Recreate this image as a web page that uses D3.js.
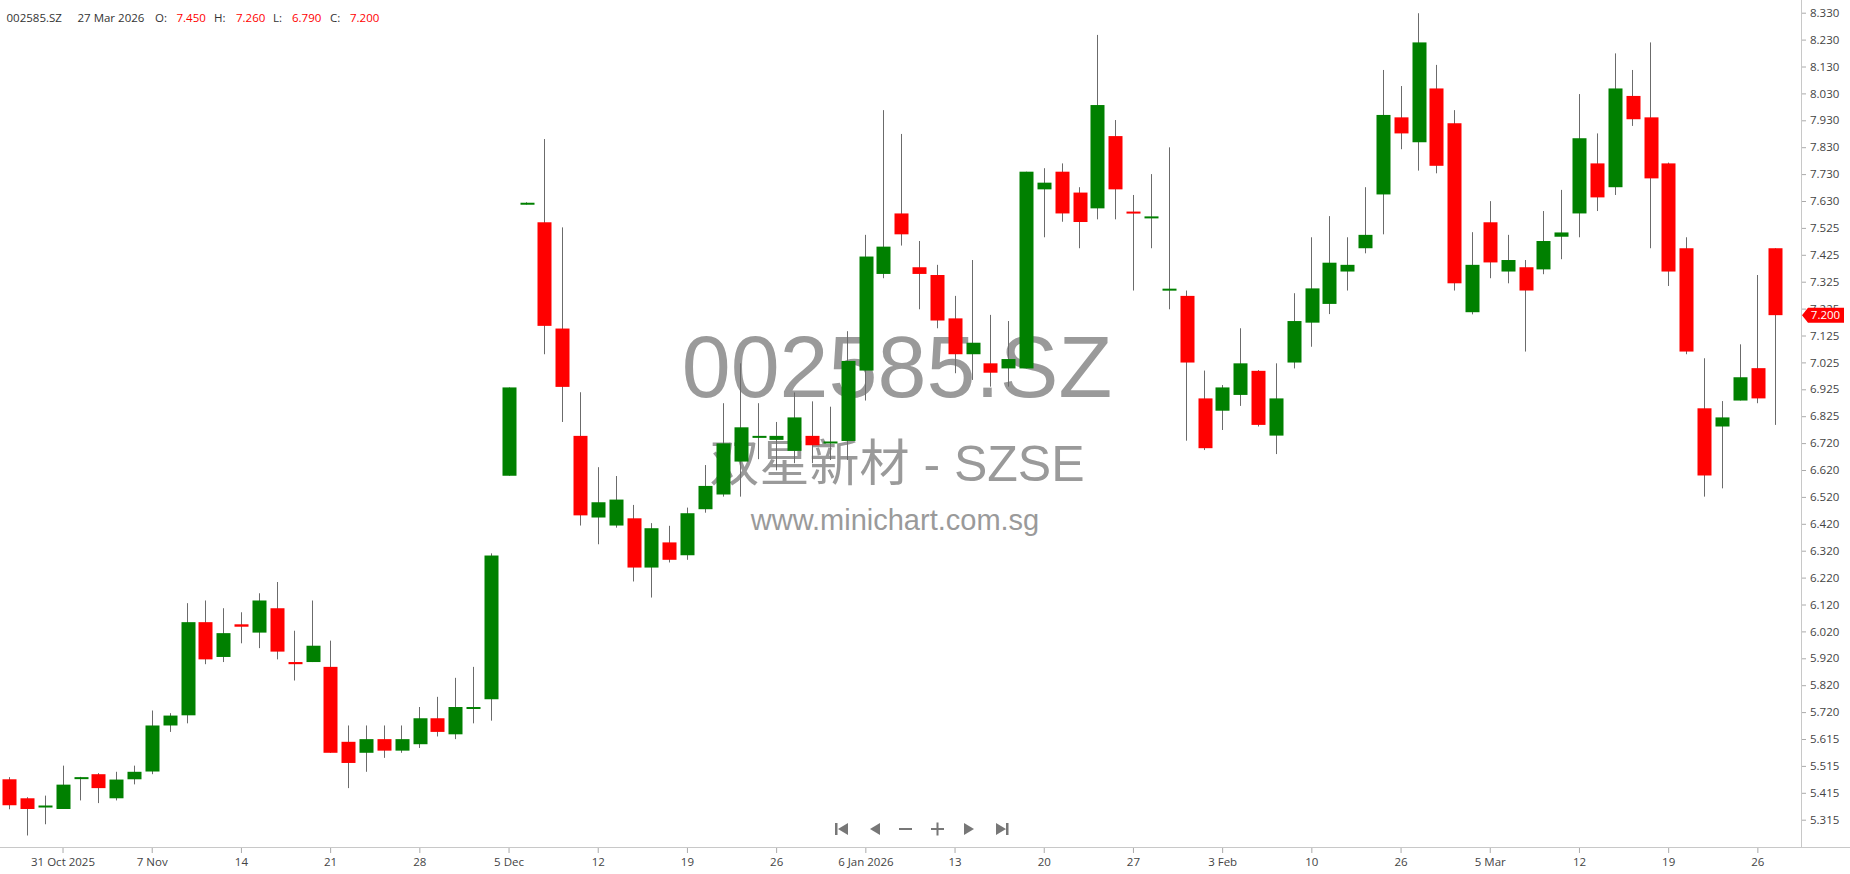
<!DOCTYPE html>
<html>
<head>
<meta charset="utf-8">
<script src="https://cdn.jsdelivr.net/npm/d3@7"></script>
<style>
  body { margin: 0; background: #fff; }
  svg { display: block; }
  .axis text { font-family: "Segoe UI", "Open Sans", sans-serif; font-size: 11.5px; fill: #444; }
  .axis .domain { display: none; }
  .axis line { stroke: #aaa; }
</style>
</head>
<body>
<div id="chart"></div>
<script>
// 002585.SZ daily candles, 28 Oct 2025 .. 27 Mar 2026
var opens = [5.466,5.395,5.365,5.355,5.472,5.485,5.395,5.466,5.495,5.667,
  5.705,6.053,5.923,6.045,6.014,6.105,5.904,5.904,5.886,5.606,
  5.565,5.616,5.573,5.597,5.694,5.634,5.734,5.765,6.600,7.615,
  7.547,7.150,6.749,6.444,6.414,6.441,6.257,6.351,6.303,6.475,
  6.530,6.653,6.748,6.734,6.693,6.749,6.727,6.730,6.993,7.354,
  7.580,7.379,7.350,7.188,7.054,7.020,7.001,7.001,7.670,7.736,
  7.658,7.599,7.869,7.587,7.565,7.294,7.272,6.889,6.843,6.902,
  6.992,6.750,7.023,7.172,7.242,7.363,7.450,7.651,7.939,7.846,
  8.047,7.917,7.211,7.547,7.363,7.379,7.371,7.493,7.580,7.767,
  7.678,8.019,7.939,7.767,7.450,6.852,6.784,6.881,7.002,7.450];
var highs = [5.474,5.399,5.405,5.517,5.475,5.489,5.494,5.517,5.723,5.713,
  6.124,6.134,6.105,6.090,6.161,6.203,6.021,6.134,5.984,5.667,
  5.667,5.667,5.667,5.736,5.774,5.845,5.886,6.310,6.930,7.622,
  7.858,7.528,6.912,6.632,6.599,6.491,6.423,6.413,6.481,6.640,
  6.871,7.020,6.871,6.801,6.911,6.878,6.858,7.140,7.500,7.966,
  7.877,7.477,7.388,7.272,7.406,7.201,7.178,7.736,7.749,7.767,
  7.678,8.247,7.929,7.649,7.727,7.827,7.292,6.993,6.939,7.151,
  6.995,7.020,7.282,7.491,7.570,7.491,7.678,8.116,8.056,8.328,
  8.135,7.966,7.510,7.626,7.500,7.406,7.589,7.668,8.026,7.879,
  8.178,8.116,8.219,7.770,7.491,7.039,6.879,7.091,7.350,7.450];
var lows = [5.354,5.256,5.298,5.355,5.387,5.377,5.387,5.447,5.485,5.643,
  5.675,5.896,5.904,5.974,5.956,5.914,5.835,5.904,5.565,5.433,
  5.494,5.546,5.565,5.583,5.626,5.616,5.675,5.685,6.600,7.613,
  7.054,6.801,6.414,6.344,6.406,6.205,6.145,6.276,6.286,6.462,
  6.522,6.522,6.662,6.620,6.647,6.647,6.659,6.659,6.881,7.338,
  7.460,7.222,7.151,6.983,6.958,6.933,6.933,7.001,7.491,7.549,
  7.450,7.558,7.558,7.292,7.450,7.222,6.731,6.696,6.771,6.861,
  6.784,6.681,7.001,7.082,7.204,7.292,7.431,7.502,7.820,7.740,
  7.730,7.292,7.203,7.338,7.319,7.064,7.353,7.409,7.491,7.589,
  7.649,7.907,7.450,7.309,7.054,6.522,6.553,6.881,6.871,6.790];
var closes = [5.369,5.355,5.368,5.446,5.474,5.433,5.465,5.494,5.667,5.704,
  6.053,5.914,6.012,6.036,6.134,5.943,5.896,5.965,5.565,5.527,
  5.616,5.573,5.616,5.694,5.643,5.736,5.736,6.302,6.930,7.620,
  7.160,6.932,6.452,6.501,6.511,6.257,6.404,6.286,6.460,6.562,
  6.721,6.781,6.749,6.749,6.818,6.714,6.728,7.029,7.419,7.456,
  7.502,7.354,7.180,7.054,7.097,6.985,7.036,7.736,7.695,7.580,
  7.548,7.985,7.670,7.580,7.569,7.299,7.023,6.703,6.930,7.020,
  6.790,6.889,7.178,7.300,7.396,7.388,7.500,7.948,7.879,8.219,
  7.758,7.319,7.388,7.397,7.406,7.292,7.477,7.509,7.861,7.640,
  8.047,7.932,7.711,7.363,7.064,6.601,6.818,6.968,6.889,7.200];

var xTickLabels = ["31 Oct 2025","7 Nov","14","21","28","5 Dec","12","19","26","6 Jan 2026",
  "13","20","27","3 Feb","10","26","5 Mar","12","19","26"];
var xTickFirst = 3, xTickEvery = 5;

var yTickLabels = ["5.315","5.415","5.515","5.615","5.720","5.820","5.920","6.020","6.120","6.220",
  "6.320","6.420","6.520","6.620","6.720","6.825","6.925","7.025","7.125","7.225",
  "7.325","7.425","7.525","7.630","7.730","7.830","7.930","8.030","8.130","8.230","8.330"];
var yMin = 5.315, yMax = 8.330;

var header = {symbol: "002585.SZ", date: "27 Mar 2026", o: "7.450", h: "7.260", l: "6.790", c: "7.200"};
var lastPrice = 7.200;

var W = 1850, H = 874;
var axisX = 1801, axisY = 847;
var UP = "#008000", DOWN = "#ff0000";

var candles = opens.map(function(o, i) {
  return {i: i, o: o, h: highs[i], l: lows[i], c: closes[i]};
});

var svg = d3.select("#chart").append("svg")
  .attr("width", W).attr("height", H);

var x = d3.scaleLinear().domain([0, candles.length - 1]).range([9, 1775.2]);
var step = x(1) - x(0);
var bodyW = step * 0.76;
var y = d3.scaleLinear().domain([yMin, yMax]).range([819.7, 12.7]);

// watermark
var wm = svg.append("g").attr("fill", "#9a9a9a").attr("text-anchor", "middle")
  .style("font-family", "'Liberation Sans', Arial, sans-serif");
wm.append("text").attr("x", 897).attr("y", 397).style("font-size", "88px").text("002585.SZ");
wm.append("text").attr("x", 897).attr("y", 481)
  .style("font-size", "50px")
  .style("font-family", "'Liberation Sans', Arial, 'Noto Sans CJK SC', sans-serif")
  .text("双星新材 - SZSE");
wm.append("text").attr("x", 895).attr("y", 530).style("font-size", "29px").text("www.minichart.com.sg");

// wicks
svg.append("g").selectAll("line.wick")
  .data(candles).enter().append("line")
    .attr("x1", function(d) { return Math.round(x(d.i)) + 0.5; })
    .attr("x2", function(d) { return Math.round(x(d.i)) + 0.5; })
    .attr("y1", function(d) { return y(d.h); })
    .attr("y2", function(d) { return y(d.l); })
    .attr("stroke", "#6b6b6b")
    .attr("stroke-width", 1);

// bodies
svg.append("g").selectAll("rect.body")
  .data(candles).enter().append("rect")
    .attr("x", function(d) { return Math.round(x(d.i) - bodyW / 2) + 0.5; })
    .attr("width", Math.round(bodyW))
    .attr("y", function(d) { return y(Math.max(d.o, d.c)); })
    .attr("height", function(d) { return Math.max(2, Math.abs(y(d.o) - y(d.c))); })
    .attr("fill", function(d) { return d.c >= d.o ? UP : DOWN; });

// x axis
svg.append("line").attr("x1", 0).attr("x2", W).attr("y1", axisY + 0.5).attr("y2", axisY + 0.5)
  .attr("stroke", "#c8c8c8");
var xTickIdx = xTickLabels.map(function(d, k) { return xTickFirst + k * xTickEvery; });
var xAxis = svg.append("g").attr("class", "axis")
  .attr("transform", "translate(0," + (axisY + 1) + ")")
  .call(d3.axisBottom(x).tickValues(xTickIdx).tickSize(5).tickPadding(5)
    .tickFormat(function(d, k) { return xTickLabels[k]; }));
xAxis.selectAll("line").attr("stroke", "#c8c8c8");

// y axis
svg.append("line").attr("x1", axisX + 0.5).attr("x2", axisX + 0.5).attr("y1", 0).attr("y2", axisY)
  .attr("stroke", "#c8c8c8");
var yStep = (yMax - yMin) / (yTickLabels.length - 1);
var yTickVals = yTickLabels.map(function(d, k) { return yMin + k * yStep; });
svg.append("g").attr("class", "axis")
  .attr("transform", "translate(" + (axisX + 1) + ",0)")
  .call(d3.axisRight(y).tickValues(yTickVals).tickSize(4).tickPadding(4)
    .tickFormat(function(d, k) { return yTickLabels[k]; }));

// last price tag
var ty = y(lastPrice);
svg.append("path")
  .attr("d", "M" + (axisX + 1) + "," + ty + "L" + (axisX + 7) + "," + (ty - 7.5) +
    "H1844V" + (ty + 7.5) + "H" + (axisX + 7) + "Z")
  .attr("fill", DOWN);
svg.append("text").attr("x", 1825.5).attr("y", ty + 4.3).attr("text-anchor", "middle")
  .style("font-family", "'Segoe UI', 'Open Sans', sans-serif").style("font-size", "11.5px")
  .attr("fill", "#fff").text(lastPrice.toFixed(3));

// header
var hd = svg.append("g").style("font-family", "'Segoe UI', 'Open Sans', sans-serif")
  .style("font-size", "11.5px");
var parts = [
  [6.5, header.symbol, "#333"], [77.5, header.date, "#333"],
  [155, "O:", "#333"], [176.5, header.o, DOWN],
  [214, "H:", "#333"], [236, header.h, DOWN],
  [273, "L:", "#333"], [292, header.l, DOWN],
  [330, "C:", "#333"], [350, header.c, DOWN]
];
hd.selectAll("text").data(parts).enter().append("text")
  .attr("x", function(d) { return d[0]; }).attr("y", 22)
  .attr("fill", function(d) { return d[2]; })
  .text(function(d) { return d[1]; });

// navigation buttons
var nav = svg.append("g").attr("fill", "#777").attr("transform", "translate(0,829)");
nav.append("path").attr("d", "M835,-6h2.5v12h-2.5zM848,-6v12l-10,-6z");
nav.append("path").attr("d", "M880,-6v12l-10,-6z");
nav.append("path").attr("d", "M899,-1h13v2h-13z");
nav.append("path").attr("d", "M931,-1h13v2h-13zM936.5,-6.5h2v13h-2z");
nav.append("path").attr("d", "M964,-6v12l10,-6z");
nav.append("path").attr("d", "M996,-6v12l10,-6zM1006,-6h2.5v12h-2.5z");
</script>
</body>
</html>
